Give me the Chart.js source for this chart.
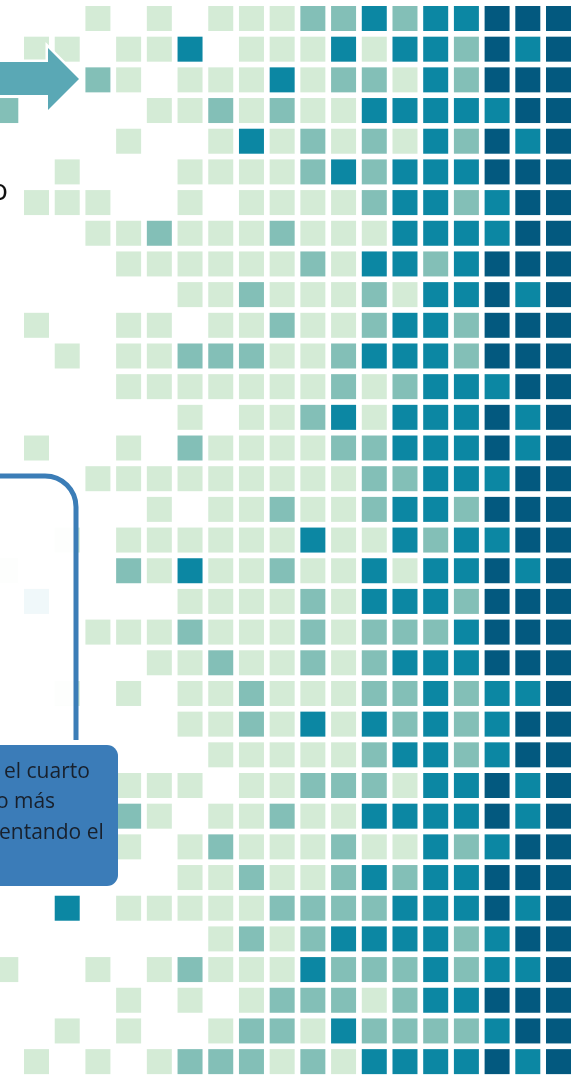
<!DOCTYPE html>
<html>
<head>
<meta charset="utf-8">
<script src="https://cdn.jsdelivr.net/npm/chart.js@4.4.0/dist/chart.umd.min.js"></script>
<style>
html, body { margin: 0; padding: 0; background: #fff; overflow: hidden; }
#wrap { position: relative; width: 577px; height: 1080px; }
</style>
</head>
<body>
<div id="wrap"><canvas id="grid" width="577" height="1080"></canvas></div>
<script>
// levels: 0 = empty, 1 = bajo, 2 = medio, 3 = alto, 4 = muy alto
var levels = ['bajo', 'medio', 'alto', 'muy alto'];
var levelColors = ['#d4ebd6', '#83bfb7', '#0c87a3', '#03597f'];

// one list per row, one value per column (19 columns)
var cells = [
  [0,0,0,1,0,1,0,1,1,1,2,2,3,2,3,3,4,4,4],
  [0,1,1,0,1,1,3,0,1,1,1,3,1,3,3,2,4,3,4],
  [0,0,0,2,1,0,1,1,1,3,1,2,2,1,3,2,4,4,4],
  [2,0,0,0,0,1,1,2,1,2,1,1,3,3,3,3,3,4,4],
  [0,0,0,0,1,0,0,1,3,1,2,1,2,1,3,2,4,3,4],
  [0,0,1,0,0,0,1,1,1,1,2,3,2,3,3,3,4,4,4],
  [0,1,1,1,0,0,1,0,1,1,1,1,2,3,3,2,3,4,4],
  [0,0,0,1,1,2,1,1,1,2,1,1,1,3,3,3,3,4,4],
  [0,0,0,0,1,1,1,1,1,1,2,1,3,3,2,3,4,4,4],
  [0,0,0,0,0,0,1,1,2,1,1,1,2,1,3,3,4,3,4],
  [0,1,0,0,1,1,0,1,1,2,1,1,2,3,3,2,4,4,4],
  [0,0,1,0,1,1,2,2,2,1,1,2,3,3,3,2,4,4,4],
  [0,0,0,0,1,1,1,1,1,1,1,2,1,2,3,3,3,4,4],
  [0,0,0,0,0,0,1,0,1,1,2,3,1,3,3,3,4,3,4],
  [0,1,0,0,1,0,2,1,1,1,1,2,2,3,3,3,4,3,4],
  [0,0,0,1,1,1,1,1,1,1,1,1,2,2,3,3,3,4,4],
  [0,0,0,0,0,1,0,1,1,2,1,1,2,3,3,2,4,4,4],
  [0,0,1,0,1,1,1,1,1,1,3,1,1,3,2,3,3,4,4],
  [1,0,0,0,2,1,3,1,1,2,1,1,3,1,3,3,4,3,4],
  [0,3,0,0,0,0,1,1,1,1,2,1,3,3,3,2,4,4,4],
  [0,0,0,1,1,1,2,1,1,1,2,1,2,2,2,3,4,4,4],
  [0,0,0,0,0,1,1,2,1,1,2,1,2,3,3,3,4,4,4],
  [0,0,1,0,1,0,1,1,2,1,1,1,2,2,3,2,3,3,4],
  [0,0,0,0,0,0,1,1,2,1,3,1,3,2,3,2,3,4,4],
  [0,0,0,0,0,0,0,1,1,1,1,1,2,3,3,2,3,4,4],
  [0,0,0,0,1,1,1,0,1,1,2,2,2,1,3,3,4,3,4],
  [0,0,0,0,2,1,0,1,1,2,1,1,3,3,3,3,4,3,4],
  [0,0,0,0,1,0,1,2,1,1,1,2,1,1,3,2,3,4,4],
  [0,0,0,0,0,0,1,1,2,1,1,2,3,2,3,3,4,4,4],
  [0,0,3,0,1,1,1,1,1,2,2,2,2,3,3,3,4,3,4],
  [0,0,0,0,0,0,0,1,2,1,2,3,3,3,3,2,3,4,4],
  [1,0,0,1,0,1,2,1,1,1,3,2,2,2,3,2,3,3,4],
  [0,0,0,0,1,0,1,0,1,2,2,2,1,2,3,3,4,4,4],
  [0,0,1,0,1,0,0,1,2,2,1,3,2,2,2,2,3,4,4],
  [0,1,0,1,0,1,2,2,2,1,2,1,3,3,3,3,4,3,4]
];

var calloutLines = ['el cuarto', 'o más', 'entando el'];

// build one scatter dataset per level
var datasets = levels.map(function (name, i) {
    var pts = [];
    cells.forEach(function (row, r) {
        row.forEach(function (v, c) {
            if (v === i + 1) pts.push({ x: c, y: r });
        });
    });
    return {
        label: name,
        data: pts,
        backgroundColor: levelColors[i],
        borderWidth: 0,
        pointStyle: 'rect',
        pointRadius: 25 / (2 * Math.SQRT1_2),
        pointHoverRadius: 25 / (2 * Math.SQRT1_2),
        clip: false
    };
});

// annotations drawn on top: arrow, cut-off text, callouts
var overlay = {
    id: 'overlay',
    afterDraw: function (chart) {
        var ctx = chart.ctx;
        ctx.save();

        // frame with white fill
        ctx.beginPath();
        ctx.moveTo(-10, 476);
        ctx.lineTo(45, 476);
        ctx.arcTo(76, 476, 76, 507, 31);
        ctx.lineTo(76, 740);
        ctx.lineTo(-10, 740);
        ctx.closePath();
        ctx.fillStyle = 'rgba(255,255,255,0.94)';
        ctx.fill();

        ctx.beginPath();
        ctx.moveTo(-10, 476);
        ctx.lineTo(45, 476);
        ctx.arcTo(76, 476, 76, 507, 31);
        ctx.lineTo(76, 740);
        ctx.lineWidth = 5;
        ctx.strokeStyle = '#3b7db7';
        ctx.stroke();

        // filled callout
        ctx.beginPath();
        ctx.roundRect(-14, 745, 132, 141, 11);
        ctx.fillStyle = '#3b7cb8';
        ctx.fill();

        ctx.fillStyle = '#18202c';
        ctx.font = '21px "Open Sans"';
        ctx.textBaseline = 'alphabetic';
        ctx.textAlign = 'left';
        ctx.fillText(calloutLines[0], 4, 778);
        ctx.fillText(calloutLines[1], 14 - ctx.measureText('o ').width, 808);
        ctx.fillText(calloutLines[2], -1, 839);

        // arrow
        ctx.beginPath();
        ctx.moveTo(-4, 62);
        ctx.lineTo(48, 62);
        ctx.lineTo(48, 48);
        ctx.lineTo(79, 79);
        ctx.lineTo(48, 110);
        ctx.lineTo(48, 95);
        ctx.lineTo(-4, 95);
        ctx.closePath();
        ctx.lineWidth = 5;
        ctx.strokeStyle = '#ffffff';
        ctx.stroke();
        ctx.fillStyle = '#5aa8b5';
        ctx.fill();

        // cut-off title letter
        ctx.fillStyle = '#111111';
        ctx.font = '30px "Open Sans"';
        ctx.fillText('o', 8 - ctx.measureText('o').width, 200);

        ctx.restore();
    }
};

new Chart(document.getElementById('grid'), {
    type: 'scatter',
    data: { datasets: datasets },
    options: {
        responsive: false,
        animation: false,
        devicePixelRatio: 1,
        layout: { padding: 0, autoPadding: false },
        plugins: {
            legend: { display: false },
            tooltip: { enabled: false }
        },
        scales: {
            x: { type: 'linear', min: -0.189, max: 18.602, display: false },
            y: { type: 'linear', reverse: true, min: -0.603, max: 34.599, display: false }
        }
    },
    plugins: [overlay]
});
</script>
</body>
</html>
